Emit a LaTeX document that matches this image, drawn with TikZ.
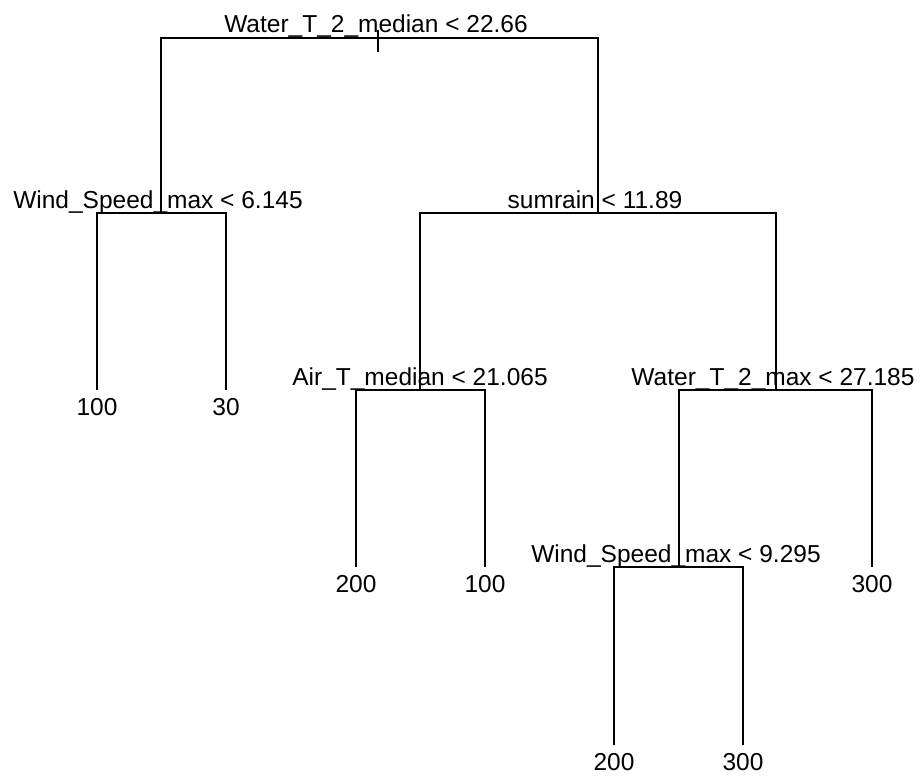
\documentclass[tikz,border=0pt]{standalone}
\usepackage{fontspec}
\setmainfont{Liberation Sans}
\begin{document}
\begin{tikzpicture}[x=1pt,y=-1pt,
  edge/.style={line width=1.5pt, black},
  lab/.style={anchor=base, inner sep=0pt, text=black,
    font=\fontsize{24.5}{28}\selectfont}]
\useasboundingbox (0,0) rectangle (920,776);

% split points (x, depth level) and leaf line ends
\coordinate (s1)  at (378,38);
\coordinate (s2)  at (161,213);
\coordinate (s3)  at (598,213);
\coordinate (s4)  at (97,390);
\coordinate (s5)  at (226,390);
\coordinate (s6)  at (420,390);
\coordinate (s7)  at (776,390);
\coordinate (s8)  at (356,567);
\coordinate (s9)  at (485,567);
\coordinate (s10) at (679,567);
\coordinate (s11) at (872,567);
\coordinate (s12) at (614,745);
\coordinate (s13) at (743,745);
\coordinate (stemtop) at (378,30);
\coordinate (stembot) at (378,52);

% branches
\draw[edge] (stemtop) -- (stembot);
\draw[edge] (s2) |- (s1) -| (s3);
\draw[edge] (s4) |- (s2) -| (s5);
\draw[edge] (s6) |- (s3) -| (s7);
\draw[edge] (s8) |- (s6) -| (s9);
\draw[edge] (s10) |- (s7) -| (s11);
\draw[edge] (s12) |- (s10) -| (s13);

% split labels
\node[lab] (t1) at (376,33)  {Water\_T\_2\_median < 22.66};
\node[lab] (t2) at (158,208) {Wind\_Speed\_max < 6.145};
\node[lab] (t3) at (595,208) {sumrain < 11.89};
\node[lab] (t6) at (420,385) {Air\_T\_median < 21.065};
\node[lab] (t7) at (773,385) {Water\_T\_2\_max < 27.185};
\node[lab] (t10) at (676,562) {Wind\_Speed\_max < 9.295};

% leaf labels
\node[lab] (t4)  at (97,415)  {100};
\node[lab] (t5)  at (226,415) {30};
\node[lab] (t8)  at (356,592) {200};
\node[lab] (t9)  at (485,592) {100};
\node[lab] (t11) at (872,592) {300};
\node[lab] (t12) at (614,770) {200};
\node[lab] (t13) at (743,770) {300};
\end{tikzpicture}
\end{document}
